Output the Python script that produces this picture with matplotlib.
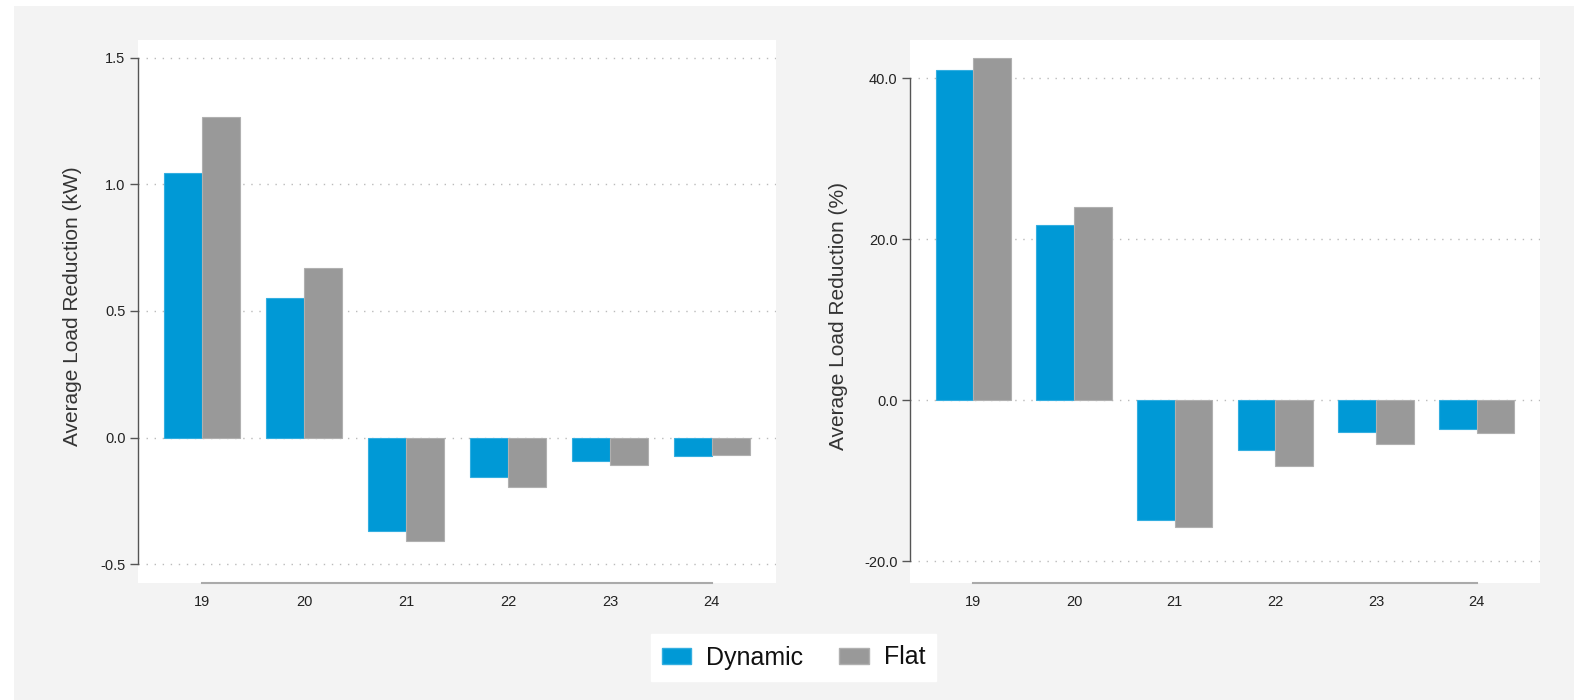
import matplotlib
matplotlib.use("Agg")
import matplotlib.pyplot as plt
from matplotlib.patches import Rectangle, Patch
import numpy as np

plt.rcParams['font.family'] = ['Liberation Sans', 'DejaVu Sans']
plt.rcParams['axes.unicode_minus'] = False

hours = [19, 20, 21, 22, 23, 24]
series = ["Dynamic", "Flat"]
kw_dynamic = [1.045, 0.55, -0.37, -0.155, -0.093, -0.073]
kw_flat = [1.268, 0.668, -0.408, -0.194, -0.109, -0.069]
pct_dynamic = [41.0, 21.8, -14.9, -6.2, -3.9, -3.55]
pct_flat = [42.5, 24.0, -15.7, -8.2, -5.4, -4.0]
kw_ticks = [-0.5, 0.0, 0.5, 1.0, 1.5]
kw_ticklabels = ["-0.5", "0.0", "0.5", "1.0", "1.5"]
pct_ticks = [-20, 0, 20, 40]
pct_ticklabels = ["-20.0", "0.0", "20.0", "40.0"]
ylabel_kw = "Average Load Reduction (kW)"
ylabel_pct = "Average Load Reduction (%)"

W, H = 1578, 700
fig = plt.figure(figsize=(W / 100, H / 100), dpi=100, facecolor="white")
fig.patches.append(Rectangle((14 / W, 0), (1574 - 14) / W, (700 - 6) / H,
                             transform=fig.transFigure, facecolor="#f3f3f3",
                             edgecolor="none", zorder=-5))

blue = "#0099d6"
grey = "#999999"
bw = 0.375


def make_ax(rect, dyn, flat, ticks, ticklabels, ylim, ylabel, ylabel_x, ylabel_y):
    ax = fig.add_axes(rect)
    ax.set_zorder(1)
    ax.set_facecolor("white")
    x = np.array(hours, dtype=float)
    ax.bar(x - bw / 2, dyn, width=bw, color=blue, edgecolor="#33aee0",
           linewidth=0.8, zorder=3)
    ax.bar(x + bw / 2, flat, width=bw, color=grey, edgecolor="#b0b0b0",
           linewidth=0.8, zorder=3)
    ax.set_xlim(18.37, 24.63)
    ax.set_ylim(*ylim)
    ax.set_yticks(ticks)
    ax.set_yticklabels(ticklabels)
    ax.set_xticks(hours)
    ax.set_xticklabels([str(h) for h in hours])
    for s in ["top", "right"]:
        ax.spines[s].set_visible(False)
    ax.spines["left"].set_bounds(ticks[0], ticks[-1])
    ax.spines["left"].set_color("#555555")
    ax.spines["left"].set_linewidth(1.0)
    ax.spines["bottom"].set_bounds(hours[0], hours[-1])
    ax.spines["bottom"].set_color("#aaaaaa")
    ax.spines["bottom"].set_linewidth(1.5)
    ax.tick_params(axis="y", length=6, width=1, color="#555555", pad=3,
                   labelsize=10.5, labelcolor="#222222")
    ax.tick_params(axis="x", length=0, pad=9, labelsize=10.5, labelcolor="#222222")
    ax.yaxis.grid(True, linestyle=(0, (1, 4.8)), color="#bbbbbb", linewidth=1.0, zorder=1)
    ax.set_axisbelow(True)
    ax.set_ylabel(ylabel, fontsize=15, color="#333333")
    yfig = (1 - 583 / H) + ylabel_y * (583 - 40) / H
    ax.yaxis.set_label_coords(ylabel_x, yfig, transform=fig.transFigure)
    return ax


ax1 = make_ax([138 / W, 1 - 583 / H, (776 - 138) / W, (583 - 40) / H],
              kw_dynamic, kw_flat, kw_ticks, kw_ticklabels, (-0.575, 1.571),
              ylabel_kw, 82 / W, 0.51)
ax2 = make_ax([910 / W, 1 - 583 / H, (1540 - 910) / W, (583 - 40) / H],
              pct_dynamic, pct_flat, pct_ticks, pct_ticklabels, (-22.67, 44.74),
              ylabel_pct, 848 / W, 0.492)

handles = [Patch(facecolor=blue, edgecolor="#33aee0"),
           Patch(facecolor=grey, edgecolor="#b0b0b0")]
leg = fig.legend(handles, series, loc="center", bbox_to_anchor=(793.5 / W, 1 - 657.5 / H),
                 ncol=2, frameon=True, fontsize=18, handlelength=1.17, handleheight=0.6,
                 columnspacing=1.44, handletextpad=0.6, borderpad=0.45, fancybox=False,
                 framealpha=1.0)
leg.get_frame().set_facecolor("white")
leg.get_frame().set_edgecolor("white")
for t in leg.get_texts():
    t.set_color("#111111")

fig.savefig("out.png", dpi=100, facecolor="white")
